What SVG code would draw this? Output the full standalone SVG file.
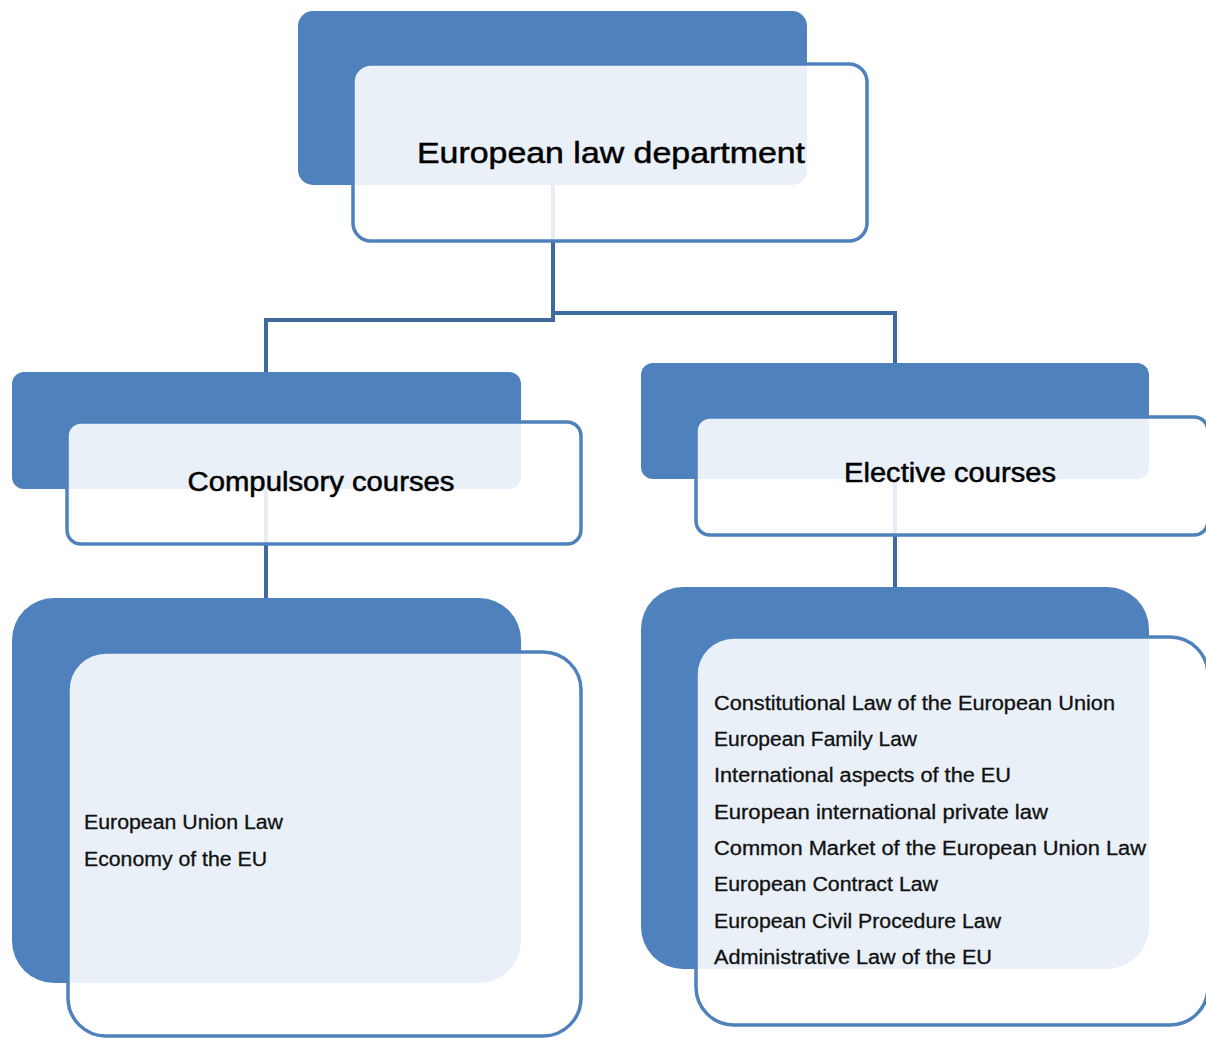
<svg xmlns="http://www.w3.org/2000/svg" width="1206" height="1039" viewBox="0 0 1206 1039">
  <style>
    .back { fill: #4F81BD; }
    .front { fill: #FFFFFF; fill-opacity: 0.88; stroke: #4F81BD; stroke-width: 3.5; }
    .link { fill: none; stroke: #3E6A9E; stroke-width: 4; }
    .title { font-family: "Liberation Sans", "DejaVu Sans", sans-serif; fill: #000; stroke: #000; stroke-width: 0.5; text-anchor: middle; }
    .item { font-family: "Liberation Sans", "DejaVu Sans", sans-serif; font-size: 20px; fill: #111; stroke: #111; stroke-width: 0.3; }
  </style>
  <rect width="1206" height="1039" fill="#FFFFFF"/>

  <!-- blue back plates -->
  <g id="plates">
    <rect class="back" x="298" y="11" width="509" height="174" rx="15"/>
    <rect class="back" x="12" y="372" width="509" height="117" rx="12"/>
    <rect class="back" x="641" y="363" width="508" height="116" rx="12"/>
    <rect class="back" x="12" y="598" width="509" height="385" rx="42"/>
    <rect class="back" x="641" y="587" width="508" height="382" rx="42"/>
  </g>

  <!-- connectors -->
  <g id="connectors">
    <polyline class="link" points="553,185 553,320 266,320 266,372"/>
    <polyline class="link" points="553,313 895,313 895,363"/>
    <line class="link" x1="266" y1="489" x2="266" y2="598"/>
    <line class="link" x1="895" y1="479" x2="895" y2="587"/>
  </g>

  <g id="node-department">
    <rect class="front" x="353" y="64" width="514" height="177" rx="18"/>
    <text class="title" x="611" y="163" font-size="30" textLength="388" lengthAdjust="spacingAndGlyphs">European law department</text>
  </g>

  <g id="node-compulsory">
    <rect class="front" x="67" y="422" width="514" height="122" rx="14"/>
    <text class="title" x="321" y="491" font-size="27" textLength="267" lengthAdjust="spacingAndGlyphs">Compulsory courses</text>
  </g>

  <g id="node-elective">
    <rect class="front" x="696" y="417" width="512" height="118" rx="14"/>
    <text class="title" x="950" y="482" font-size="27" textLength="212" lengthAdjust="spacingAndGlyphs">Elective courses</text>
  </g>

  <g id="node-compulsory-list">
    <rect class="front" x="68" y="652" width="513" height="384" rx="38"/>
    <text class="item" x="84" y="829" textLength="199" lengthAdjust="spacingAndGlyphs">European Union Law</text>
    <text class="item" x="84" y="866" textLength="183" lengthAdjust="spacingAndGlyphs">Economy of the EU</text>
  </g>

  <g id="node-elective-list">
    <rect class="front" x="696" y="637" width="512" height="388" rx="38"/>
    <text class="item" x="714" y="710" textLength="401" lengthAdjust="spacingAndGlyphs">Constitutional Law of the European Union</text>
    <text class="item" x="714" y="746" textLength="203" lengthAdjust="spacingAndGlyphs">European Family Law</text>
    <text class="item" x="714" y="782" textLength="297" lengthAdjust="spacingAndGlyphs">International aspects of the EU</text>
    <text class="item" x="714" y="819" textLength="334" lengthAdjust="spacingAndGlyphs">European international private law</text>
    <text class="item" x="714" y="855" textLength="432" lengthAdjust="spacingAndGlyphs">Common Market of the European Union Law</text>
    <text class="item" x="714" y="891" textLength="224" lengthAdjust="spacingAndGlyphs">European Contract Law</text>
    <text class="item" x="714" y="928" textLength="287" lengthAdjust="spacingAndGlyphs">European Civil Procedure Law</text>
    <text class="item" x="714" y="964" textLength="278" lengthAdjust="spacingAndGlyphs">Administrative Law of the EU</text>
  </g>
</svg>
